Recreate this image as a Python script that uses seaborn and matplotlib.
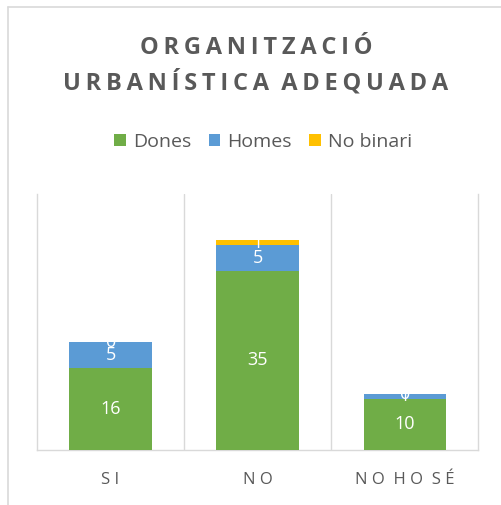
import matplotlib
matplotlib.use("Agg")
import matplotlib.pyplot as plt
import seaborn as sns
import pandas as pd
from matplotlib.lines import Line2D
from matplotlib.patches import Patch

# data
categories = ["SI", "NO", "NO HO SÉ"]
series_names = ["Dones", "Homes", "No binari"]
dones = [16, 35, 10]
homes = [5, 5, 1]
no_binari = [0, 1, 0]
title_lines = ["ORGANITZACIÓ", "URBANÍSTICA ADEQUADA"]

COLOURS = {"Dones": "#70AD47", "Homes": "#5B9BD5", "No binari": "#FFC000"}
GREY = "#595959"
LINE = "#D9D9D9"


def spaced(s, gap):
    # imitate letter spacing with a spacing char between the letters
    return gap.join(s).replace(gap + " " + gap, "  ")


sns.set_theme(style="white")
plt.rcParams["font.family"] = ["Open Sans", "DejaVu Sans"]

df = pd.DataFrame({"cat": categories, "Dones": dones,
                   "Homes": homes, "No binari": no_binari})
df["c1"] = df["Dones"]
df["c2"] = df["Dones"] + df["Homes"]
df["c3"] = df["c2"] + df["No binari"]

fig = plt.figure(figsize=(5.02, 5.05), dpi=100)
ax = fig.add_axes([0.0737, 0.1089, 0.879, 0.507])

# stacked bars drawn as overlapping cumulative totals
for col, name in [("c3", "No binari"), ("c2", "Homes"), ("c1", "Dones")]:
    sns.barplot(data=df, x="cat", y=col, color=COLOURS[name], width=0.56,
                saturation=1, linewidth=0, ax=ax, zorder=3)

# data labels in the middle of each segment
for i in range(len(categories)):
    bottoms = [0, dones[i], dones[i] + homes[i]]
    for b, v in zip(bottoms, [dones[i], homes[i], no_binari[i]]):
        ax.text(i, b + v / 2, str(v), ha="center", va="center",
                color="white", fontsize=13, zorder=5)

ax.set_ylim(0, 50)
ax.set_xlim(-0.5, 2.5)
ax.set_yticks([])
ax.set_xlabel(""); ax.set_ylabel("")
ax.set_xticks(range(3))
ax.set_xticklabels([spaced(c, " ") for c in categories], color=GREY, fontsize=12)
ax.tick_params(axis="x", length=0, pad=16)
ax.set_xticks([0.5, 1.5], minor=True)
ax.tick_params(axis="x", which="minor", length=0)
ax.grid(True, axis="x", which="minor", color=LINE, linewidth=1, zorder=0)
for s in ["left", "right", "bottom"]:
    ax.spines[s].set_color(LINE)
    ax.spines[s].set_linewidth(1)
ax.spines["top"].set_visible(False)

for y, line in zip([0.905, 0.836], title_lines):
    fig.text(0.51, y, spaced(line, "\u2009"), ha="center", va="center",
             fontsize=17, fontweight="bold", color=GREY)

handles = [Patch(facecolor=COLOURS[n], edgecolor="none") for n in series_names]
fig.legend(handles, series_names, loc="center", bbox_to_anchor=(0.524, 0.719),
           ncol=3, frameon=False, fontsize=14, handlelength=0.6,
           handleheight=0.6, handletextpad=0.35, columnspacing=0.9,
           labelcolor=GREY)

# chart frame (left and top edges visible in the crop)
fig.add_artist(Line2D([0.016, 0.016], [0, 0.986], color=LINE, linewidth=1.2))
fig.add_artist(Line2D([0.016, 1.0], [0.986, 0.986], color=LINE, linewidth=1.2))

fig.savefig("out.png", dpi=100)
